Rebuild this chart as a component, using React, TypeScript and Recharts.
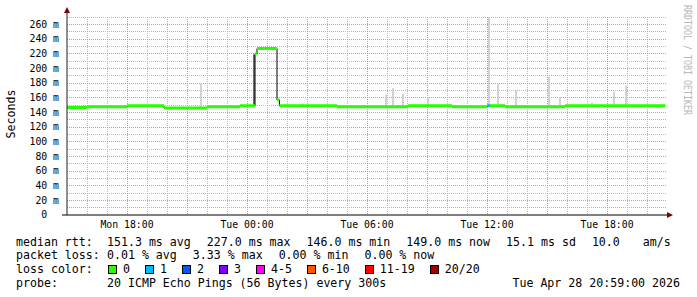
import React from "react";
import { ComposedChart, CartesianGrid, Line, XAxis, YAxis } from "recharts";

// Median rtt as steps. Hours after Mon 15:00, values in ms.
const segStart = [0, 1, 3, 4.85, 7, 8.65, 9.4, 9.5, 10.5, 10.62, 13.5, 17.05, 19.25, 21, 21.15, 21.9, 24.9];
const segMedian = [146.5, 147.5, 149, 146, 147.5, 149, 220, 227, 157, 149, 147.5, 149, 147.5, 149, 149, 147.5, 149];
const segLoss = [0, 0, 0, 0, 0, 0, 0, 0, 0, 0, 0, 0, 0, 1, 0, 0, 0];
const lastSample = 29.9;

// Smoke spikes (highest ping of the round)
const smokeTime = [6.7, 9.35, 11.8, 15.95, 16.3, 16.8, 18.05, 21.1, 21.55, 22.45, 24.1, 24.65, 26.25, 27.35, 27.95];
const smokeTop = [180, 219, 152, 164, 173, 165, 161, 272, 180, 170, 189, 161, 153, 168, 176];
const smokeDense = [false, true, false, false, false, false, false, false, false, false, false, false, false, false, false];

const xTickHours = [3, 9, 15, 21, 27];
const xTickLabels = ["Mon 18:00", "Tue 00:00", "Tue 06:00", "Tue 12:00", "Tue 18:00"];
const yTicks = [0, 20, 40, 60, 80, 100, 120, 140, 160, 180, 200, 220, 240, 260];

const rttStats = ["151.3 ms avg", "227.0 ms max", "146.0 ms min", "149.0 ms now", "15.1 ms sd", "10.0", " am/s"];
const lossStats = ["0.01 % avg", "3.33 % max", "0.00 % min", "0.00 % now"];
const lossLabels = ["0", "1", "2", "3", "4-5", "6-10", "11-19", "20/20"];
const lossColors = ["#26ff00", "#00b8ff", "#0059ff", "#7e00ff", "#ff00ff", "#ff5500", "#ff0000", "#a10000"];
const probeText = "20 ICMP Echo Pings (56 Bytes) every 300s";
const stampText = "Tue Apr 28 20:59:00 2026";

const MONO = "'DejaVu Sans Mono', monospace";
const minorHours = Array.from({ length: 29 }, (_, i) => i + 1).filter((h) => h % 3 !== 0);
const majorHours = [3, 6, 9, 12, 15, 18, 21, 24, 27];
const minorMs = [10, 30, 50, 70, 90, 110, 130, 150, 170, 190, 210, 230, 250, 270];
const majorMs = yTicks.filter((v) => v > 0);

type Row = { t: number; [k: string]: number | undefined };

const segEnd = (i: number) => (i + 1 < segStart.length ? segStart[i + 1] : lastSample);
const segAt = (t: number) => {
  let i = 0;
  while (i + 1 < segStart.length && segStart[i + 1] <= t) i++;
  return i;
};

// one table: median steps split by loss colour, plus vertical smoke strokes;
// a row without a key breaks that line
const rows: Row[] = [];
segStart.forEach((s, i) => {
  const key = `loss${segLoss[i]}`;
  rows.push({ t: s, dark: segMedian[i], [key]: segMedian[i] });
  rows.push({ t: segEnd(i), dark: segMedian[i], [key]: segMedian[i] });
  rows.push({ t: segEnd(i) });
});
smokeTime.forEach((t, k) => {
  const i = segAt(t);
  const m = segMedian[i];
  const base = { t, dark: m, [`loss${segLoss[i]}`]: m };
  const sk = smokeDense[k] ? "smokeDark" : "smoke";
  rows.push({ ...base, [sk]: m }, { ...base, [sk]: smokeTop[k] }, { ...base });
});
rows.sort((a, b) => a.t - b.t);

const YTick = (props: any) => {
  const { x, y, payload } = props;
  return (
    <text x={x} y={y} dy="0.35em" textAnchor="end" xmlSpace="preserve" fontFamily={MONO} fontSize={9.8} fill="#000">
      {payload.value === 0 ? "0  " : `${payload.value} m`}
    </text>
  );
};

const rowStyle: React.CSSProperties = {
  position: "absolute",
  left: 16,
  display: "flex",
  whiteSpace: "pre",
  fontFamily: MONO,
  fontSize: 11.6,
  lineHeight: "14px",
  color: "#000",
};

export default function App() {
  return (
    <div style={{ position: "absolute", left: 0, top: 0, width: 697, height: 297, background: "#fff" }}>
      <ComposedChart width={697} height={297} data={rows} margin={{ top: 17, right: 30, bottom: 52, left: 0 }}>
        <CartesianGrid
          horizontalValues={minorMs}
          verticalValues={minorHours}
          stroke="#b8b8b8"
          strokeDasharray="1 1"
          shapeRendering="crispEdges"
        />
        <CartesianGrid
          horizontalValues={majorMs}
          verticalValues={majorHours}
          stroke="#de9090"
          strokeDasharray="1 1"
          shapeRendering="crispEdges"
        />
        <XAxis
          type="number"
          dataKey="t"
          domain={[0, 30]}
          ticks={xTickHours}
          interval={0}
          height={30}
          tickFormatter={(h: number) => xTickLabels[xTickHours.indexOf(h)]}
          tickLine={false}
          tickMargin={0}
          axisLine={{ stroke: "#000" }}
          tick={{ fontFamily: MONO, fontSize: 9.8, fill: "#000" }}
          allowDataOverflow
        />
        <YAxis
          type="number"
          domain={[0, 270]}
          ticks={yTicks}
          interval={0}
          width={67}
          tickLine={false}
          axisLine={{ stroke: "#202020" }}
          tick={<YTick />}
          allowDataOverflow
        />
        <Line dataKey="smoke" type="linear" stroke="#d2d2d2" strokeWidth={2} dot={false} isAnimationActive={false} />
        <Line dataKey="smokeDark" type="linear" stroke="#6e6e6e" strokeWidth={2} dot={false} isAnimationActive={false} />
        <Line dataKey="dark" type="linear" stroke="#000" strokeWidth={1} dot={false} connectNulls isAnimationActive={false} />
        <Line dataKey="loss0" type="linear" stroke={lossColors[0]} strokeWidth={3} dot={false} isAnimationActive={false} />
        <Line dataKey="loss1" type="linear" stroke={lossColors[1]} strokeWidth={3} dot={false} isAnimationActive={false} />
      </ComposedChart>

      <svg width={697} height={297} style={{ position: "absolute", left: 0, top: 0, pointerEvents: "none" }}>
        <line x1={62} y1={215} x2={67} y2={215} stroke="#000" />
        <line x1={67} y1={11} x2={67} y2={17} stroke="#202020" />
        <polygon points="64,13 67,7 70,13" fill="#7f0000" />
        <polygon points="667,212 673,215 667,218" fill="#7f0000" />
        <text transform="translate(14.5,114) rotate(-90)" textAnchor="middle" fontFamily={MONO} fontSize={11.6} fill="#000">
          Seconds
        </text>
        <text
          transform="translate(684,5) rotate(90)"
          fontFamily={MONO}
          fontSize={10.5}
          textLength={110}
          lengthAdjust="spacingAndGlyphs"
          fill="#b8b8b8"
        >
          RRDTOOL / TOBI OETIKER
        </text>
      </svg>

      <div style={{ ...rowStyle, top: 235 }}>
        <span style={{ width: 91 }}>median rtt:</span>
        <span style={{ display: "flex", gap: 16 }}>
          {rttStats.map((s) => (
            <span key={s}>{s}</span>
          ))}
        </span>
      </div>
      <div style={{ ...rowStyle, top: 248 }}>
        <span style={{ width: 91 }}>packet loss:</span>
        <span style={{ display: "flex", gap: 16 }}>
          {lossStats.map((s) => (
            <span key={s}>{s}</span>
          ))}
        </span>
      </div>
      <div style={{ ...rowStyle, top: 262 }}>
        <span style={{ width: 92 }}>loss color:</span>
        <span style={{ display: "flex", gap: 15, alignItems: "center" }}>
          {lossLabels.map((l, i) => (
            <span key={l} style={{ display: "flex", alignItems: "center" }}>
              <span
                style={{
                  width: 7,
                  height: 7,
                  border: "1px solid #000",
                  background: lossColors[i],
                  marginRight: 6,
                }}
              />
              {l}
            </span>
          ))}
        </span>
      </div>
      <div style={{ ...rowStyle, top: 276 }}>
        <span style={{ width: 91 }}>probe:</span>
        <span>{probeText}</span>
      </div>
      <div style={{ ...rowStyle, top: 276, left: "auto", right: 17 }}>{stampText}</div>
    </div>
  );
}
